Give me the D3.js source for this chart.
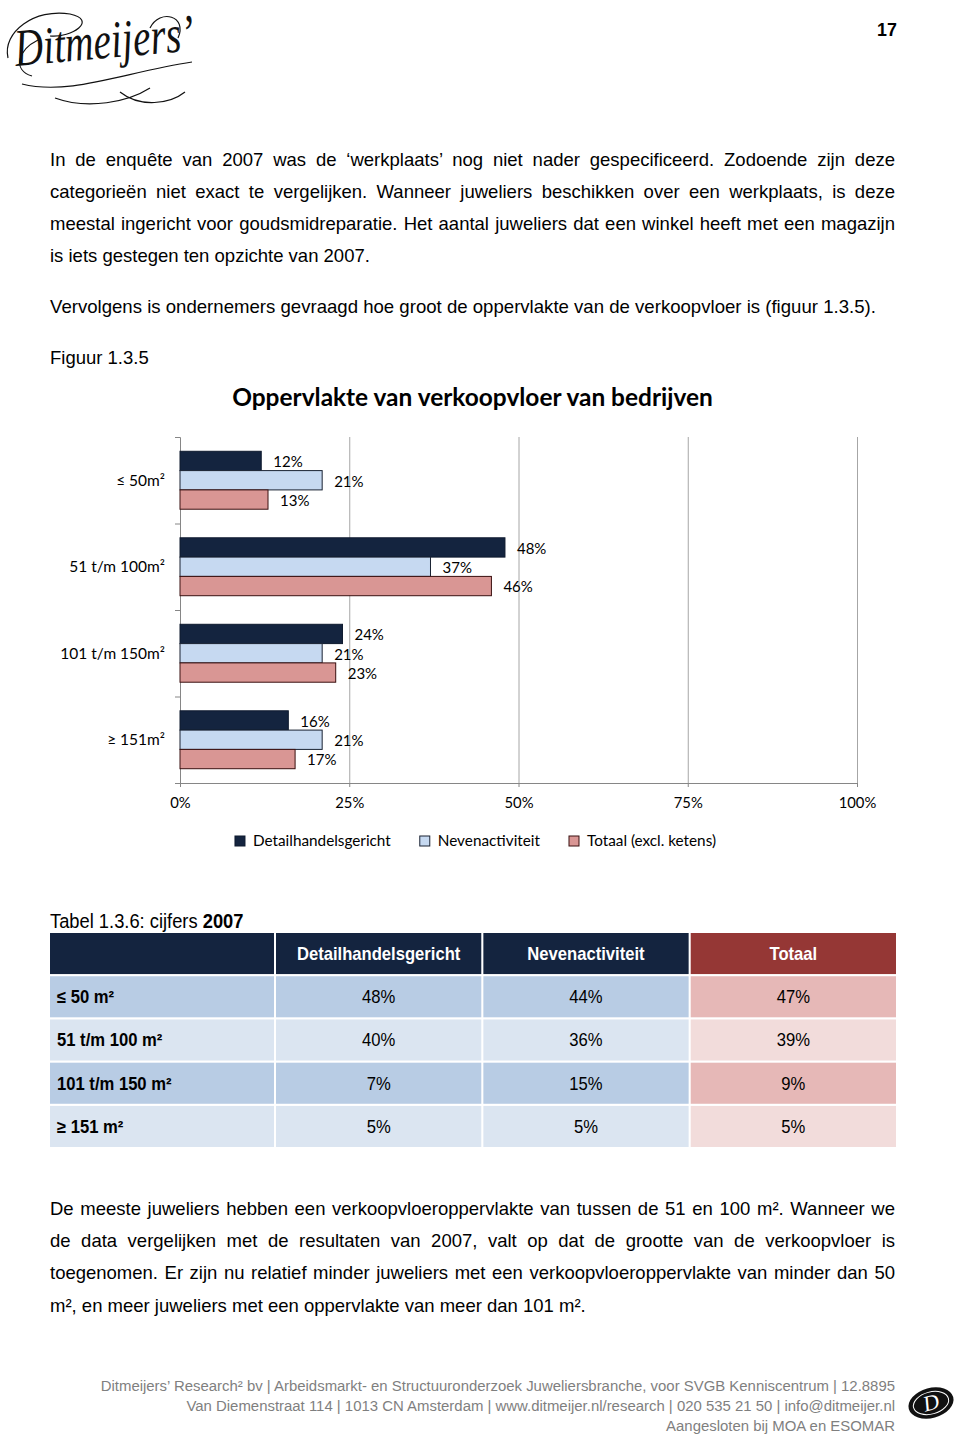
<!DOCTYPE html>
<html><head><meta charset="utf-8">
<script src="https://cdn.jsdelivr.net/npm/d3@7"></script>
<style>body{margin:0;background:#fff} svg{display:block}</style>
</head><body>
<script>
// ---------- data ----------
const categories = ["≤ 50m²", "51 t/m 100m²", "101 t/m 150m²", "≥ 151m²"];
const seriesNames = ["Detailhandelsgericht", "Nevenactiviteit", "Totaal (excl. ketens)"];
const detailhandel = [12, 48, 24, 16];
const nevenactiviteit = [21, 37, 21, 21];
const totaalExcl = [13, 46, 23, 17];
const xTickValues = [0, 25, 50, 75, 100];

const tableCaption = "Tabel 1.3.6: cijfers ";
const tableYear = "2007";
const tableCols = ["Detailhandelsgericht", "Nevenactiviteit", "Totaal"];
const tableRows = ["≤ 50 m²", "51 t/m 100 m²", "101 t/m 150 m²", "≥ 151 m²"];
const t2007Detail = [48, 40, 7, 5];
const t2007Neven = [44, 36, 15, 5];
const t2007Totaal = [47, 39, 9, 5];

const para1 = [
  "In de enquête van 2007 was de ‘werkplaats’ nog niet nader gespecificeerd. Zodoende zijn deze",
  "categorieën niet exact te vergelijken. Wanneer juweliers beschikken over een werkplaats, is deze",
  "meestal ingericht voor goudsmidreparatie. Het aantal juweliers dat een winkel heeft met een magazijn",
  "is iets gestegen ten opzichte van 2007."
];
const para2 = ["Vervolgens is ondernemers gevraagd hoe groot de oppervlakte van de verkoopvloer is (figuur 1.3.5)."];
const figLabel = "Figuur 1.3.5";
const chartTitle = "Oppervlakte van verkoopvloer van bedrijven";
const para3 = [
  "De meeste juweliers hebben een verkoopvloeroppervlakte van tussen de 51 en 100 m². Wanneer we",
  "de data vergelijken met de resultaten van 2007, valt op dat de grootte van de verkoopvloer is",
  "toegenomen. Er zijn nu relatief minder juweliers met een verkoopvloeroppervlakte van minder dan 50",
  "m², en meer juweliers met een oppervlakte van meer dan 101 m²."
];
const footerLines = [
  "Ditmeijers’ Research² bv | Arbeidsmarkt- en Structuuronderzoek Juweliersbranche, voor SVGB Kenniscentrum | 12.8895",
  "Van Diemenstraat 114 | 1013 CN Amsterdam | www.ditmeijer.nl/research | 020 535 21 50 | info@ditmeijer.nl",
  "Aangesloten bij MOA en ESOMAR"
];
const pageNumber = "17";

// ---------- page ----------
const W = 960, H = 1436;
const svg = d3.select("body").append("svg").attr("width", W).attr("height", H);
svg.append("rect").attr("width", W).attr("height", H).attr("fill", "#fff");

const bodyFont = "'Liberation Sans', Arial, sans-serif";
const chartFont = "Lato, Carlito, Calibri, sans-serif";
const NARROW = 0.94;

function textLines(lines, x0, baselines, width, size) {
  lines.forEach((ln, i) => {
    const t = svg.append("text").attr("x", x0).attr("y", baselines[i])
      .attr("font-family", bodyFont).attr("font-size", size).attr("fill", "#000").text(ln);
    if (i < lines.length - 1) {
      const len = t.node().getComputedTextLength();
      const n = (ln.match(/ /g) || []).length;
      if (n) t.style("word-spacing", ((width - len) / n) + "px");
    }
  });
}

// page number
svg.append("text").attr("transform", `translate(887,36) scale(${NARROW},1)`).attr("text-anchor", "middle")
  .attr("font-family", bodyFont).attr("font-weight", "bold").attr("font-size", 19).text(pageNumber);

// logo (script wordmark)
const logo = svg.append("g");
logo.append("text").attr("transform", "translate(16,66) rotate(-5) scale(0.86,1.15)")
  .attr("font-family", "'Liberation Serif', 'DejaVu Serif', serif").attr("font-style", "italic")
  .attr("font-size", 46).attr("fill", "#111").text("Ditmeijers’");
logo.append("path").attr("fill", "none").attr("stroke", "#111").attr("stroke-width", 1.2)
  .attr("d", "M8,58 C2,32 35,8 70,14 C98,20 72,38 50,36 M22,84 C70,96 125,72 192,62 M55,98 C88,110 128,102 150,88 M38,40 C18,50 12,70 32,76 M150,28 C160,8 188,16 178,38 M120,92 C140,108 170,104 185,92");

textLines(para1, 50, [165.5, 197.5, 229.5, 261.5], 845, 18.5);
textLines(para2, 50, [312.5], 845, 18.6);
svg.append("text").attr("x", 50).attr("y", 363.5).attr("font-family", bodyFont)
  .attr("font-size", 18.5).text(figLabel);

// ---------- chart ----------
const plot = { left: 180, right: 857, top: 437, bottom: 783 };
const x = d3.scaleLinear().domain([0, 100]).range([plot.left, plot.right]);
const y = d3.scaleBand().domain(categories).range([plot.top, plot.bottom]).padding(0);
const ySub = d3.scaleBand().domain(seriesNames).range([0, y.bandwidth()]).paddingInner(0).paddingOuter(0.74);
const fills = d3.scaleOrdinal().domain(seriesNames).range(["#14243f", "#c6d9f1", "#d99694"]);
const strokes = d3.scaleOrdinal().domain(seriesNames).range(["#0e1a2e", "#1a2333", "#3a1010"]);
const seriesValues = [detailhandel, nevenactiviteit, totaalExcl];

const chart = svg.append("g").attr("font-family", chartFont);

// title
const title = chart.append("text").attr("x", 472.5).attr("y", 406).attr("text-anchor", "middle")
  .attr("font-weight", "bold").attr("font-size", 23).attr("fill", "#000").text(chartTitle);
{
  const len = title.node().getComputedTextLength();
  title.attr("font-size", 23 * 481 / len);
}

// gridlines
chart.append("g").attr("transform", `translate(0,${plot.bottom})`)
  .call(d3.axisBottom(x).tickValues(xTickValues.slice(1)).tickSize(-(plot.bottom - plot.top)).tickFormat(""))
  .call(g => g.select(".domain").remove())
  .call(g => g.selectAll("line").attr("stroke", "#a6a6a6"));

// x axis
chart.append("g").attr("transform", `translate(0,${plot.bottom})`)
  .call(d3.axisBottom(x).tickValues(xTickValues).tickSize(4).tickSizeOuter(0).tickPadding(10).tickFormat(d => d + "%"))
  .call(g => g.selectAll(".domain,line").attr("stroke", "#868686"))
  .call(g => g.selectAll("text").attr("font-family", chartFont).attr("font-size", 14.8).attr("fill", "#000"));

// y axis (tick marks at band boundaries)
const yEdges = d3.scaleLinear().domain([0, categories.length]).range([plot.top, plot.bottom]);
chart.append("g").attr("transform", `translate(${plot.left},0)`)
  .call(d3.axisLeft(yEdges).ticks(categories.length).tickSize(5).tickFormat(""))
  .call(g => g.selectAll("path,line").attr("stroke", "#868686"));

// category labels
chart.append("g").selectAll("text").data(categories).join("text")
  .attr("x", 165).attr("y", d => y(d) + y.bandwidth() / 2).attr("dy", "0.35em")
  .attr("text-anchor", "end").attr("font-size", 15.5).attr("fill", "#000").text(d => d);

// bars
const barData = [];
categories.forEach((c, ci) => seriesNames.forEach((s, si) => barData.push({ c, s, v: seriesValues[si][ci] })));
chart.append("g").selectAll("rect").data(barData).join("rect")
  .attr("x", x(0)).attr("y", d => y(d.c) + ySub(d.s))
  .attr("width", d => x(d.v) - x(0)).attr("height", ySub.bandwidth())
  .attr("fill", d => fills(d.s)).attr("stroke", d => strokes(d.s)).attr("stroke-width", 1);

// value labels
chart.append("g").selectAll("text").data(barData).join("text")
  .attr("x", d => x(d.v) + 12).attr("y", d => y(d.c) + ySub(d.s) + ySub.bandwidth() / 2 + 1)
  .attr("dy", "0.35em").attr("font-size", 15).attr("fill", "#000").text(d => d.v + "%");

// legend
const legend = chart.append("g");
const items = legend.selectAll("g").data(seriesNames).join("g");
items.append("rect").attr("width", 10).attr("height", 10).attr("y", -5)
  .attr("fill", d => fills(d)).attr("stroke", d => strokes(d));
items.append("text").attr("x", 18).attr("dy", "0.35em").attr("font-size", 15.3).text(d => d);
{
  let cx = 0; const offs = [];
  items.each(function () {
    offs.push(cx);
    cx += 18 + d3.select(this).select("text").node().getComputedTextLength() + 29;
  });
  const total = cx - 29;
  const start = 475.5 - total / 2;
  items.attr("transform", (d, i) => `translate(${start + offs[i]},841)`);
}

// ---------- table ----------
const cap = svg.append("text").attr("transform", `translate(50,928) scale(${NARROW},1)`)
  .attr("font-family", bodyFont).attr("font-size", 19.5);
cap.append("tspan").text(tableCaption);
cap.append("tspan").attr("font-weight", "bold").text(tableYear);

const rowKeys = ["__head"].concat(tableRows);
const ty = d3.scaleBand().domain(rowKeys).range([933, 1147]).paddingInner(0.05).paddingOuter(0);
const tx = d3.scaleBand().domain(tableCols).range([276, 896]).paddingInner(0.01).paddingOuter(0);
const firstColX = 50, firstColW = tx(tableCols[0]) - 2 - 50;
const tableVals = [t2007Detail, t2007Neven, t2007Totaal];
const tg = svg.append("g").attr("font-family", bodyFont);
const tfs = 17.7;

function cellText(xp, yp, anchor, txt, bold, color) {
  tg.append("text").attr("transform", `translate(${xp},${yp}) scale(${NARROW},1)`)
    .attr("dy", "0.36em").attr("text-anchor", anchor).attr("font-size", tfs)
    .attr("font-weight", bold ? "bold" : "normal").attr("fill", color).text(txt);
}

// header row
tg.append("rect").attr("x", firstColX).attr("y", ty("__head")).attr("width", firstColW).attr("height", ty.bandwidth()).attr("fill", "#14243f");
tg.selectAll("rect.h").data(tableCols).join("rect").attr("class", "h")
  .attr("x", d => tx(d)).attr("y", ty("__head")).attr("width", tx.bandwidth()).attr("height", ty.bandwidth())
  .attr("fill", (d, i) => i === 2 ? "#953735" : "#14243f");
tableCols.forEach(c => cellText(tx(c) + tx.bandwidth() / 2, ty("__head") + ty.bandwidth() / 2, "middle", c, true, "#fff"));

// body rows
tableRows.forEach((r, ri) => {
  const odd = ri % 2 === 0;
  const blue = odd ? "#b8cce4" : "#dbe5f1";
  const red = odd ? "#e6b8b7" : "#f2dcdb";
  tg.append("rect").attr("x", firstColX).attr("y", ty(r)).attr("width", firstColW).attr("height", ty.bandwidth()).attr("fill", blue);
  cellText(57, ty(r) + ty.bandwidth() / 2, "start", r, true, "#000");
  tableCols.forEach((c, ci) => {
    tg.append("rect").attr("x", tx(c)).attr("y", ty(r)).attr("width", tx.bandwidth()).attr("height", ty.bandwidth())
      .attr("fill", ci === 2 ? red : blue);
    cellText(tx(c) + tx.bandwidth() / 2, ty(r) + ty.bandwidth() / 2, "middle", tableVals[ci][ri] + "%", false, "#000");
  });
});

textLines(para3, 50, [1214.5, 1246.5, 1279, 1311.5], 845, 18.5);

// ---------- footer ----------
const fl = svg.append("g").attr("font-family", bodyFont).attr("fill", "#7f7f7f");
const fTexts = fl.selectAll("text").data(footerLines).join("text")
  .attr("x", 895).attr("y", (d, i) => 1390.5 + i * 20).attr("text-anchor", "end")
  .attr("font-size", 16).text(d => d);
{
  const len = fTexts.nodes()[0].getComputedTextLength();
  fTexts.attr("font-size", 16 * 795 / len);
}
const fLogo = svg.append("g").attr("transform", "translate(931,1403) rotate(-15)");
fLogo.append("ellipse").attr("rx", 23).attr("ry", 15).attr("fill", "#111");
fLogo.append("ellipse").attr("rx", 18).attr("ry", 11).attr("fill", "none").attr("stroke", "#fff").attr("stroke-width", 1);
fLogo.append("text").attr("y", 7).attr("text-anchor", "middle").attr("font-family", "'Liberation Serif', serif")
  .attr("font-style", "italic").attr("font-size", 22).attr("fill", "#fff").text("D");
</script>
</body></html>
